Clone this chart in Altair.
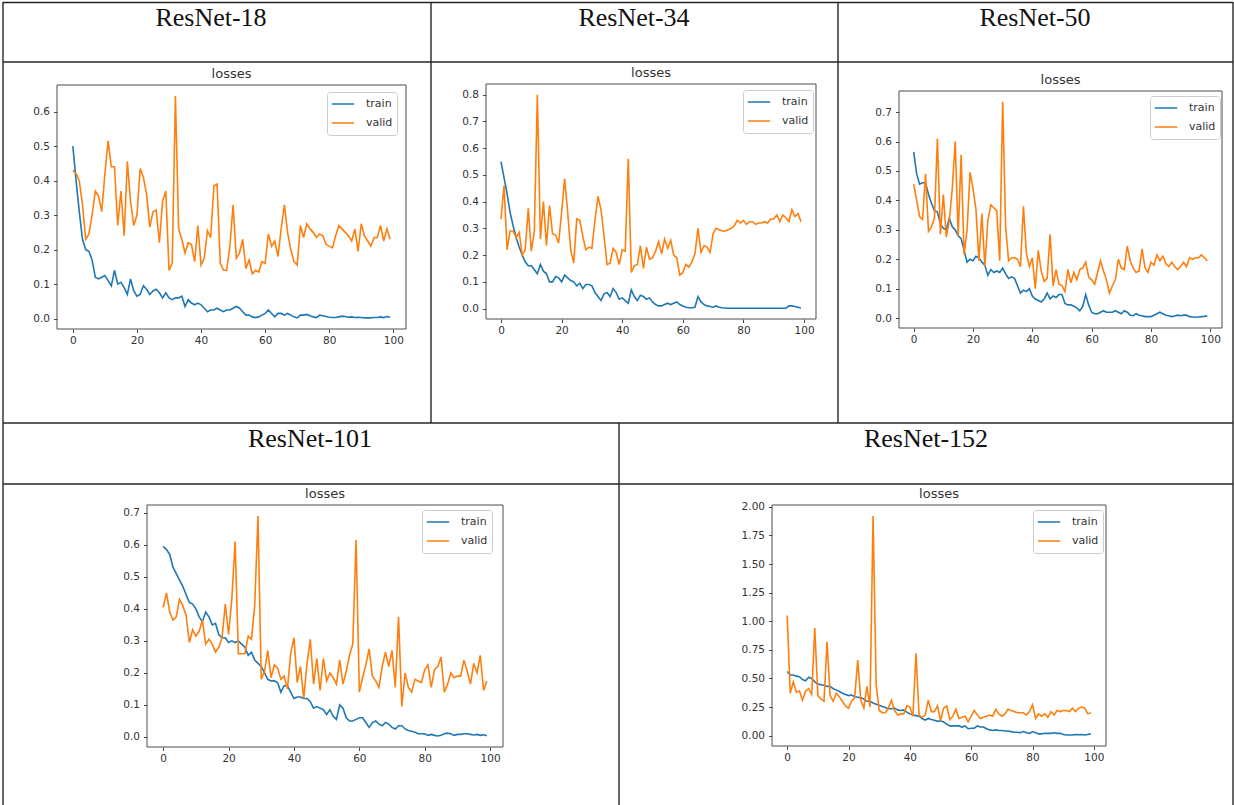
import altair as alt
import pandas as pd

EPOCHS = list(range(100))
SERIES = ["train", "valid"]
COLORS = ["#1f77b4", "#ff7f0e"]
X_TICKS = [0, 20, 40, 60, 80, 100]

r18_train = [0.50, 0.40, 0.31, 0.23, 0.20, 0.195, 0.17, 0.12, 0.115, 0.12,
             0.125, 0.11, 0.095, 0.14, 0.10, 0.105, 0.09, 0.07, 0.115, 0.08,
             0.065, 0.07, 0.095, 0.085, 0.07, 0.08, 0.085, 0.075, 0.06, 0.075,
             0.06, 0.055, 0.06, 0.06, 0.065, 0.035, 0.055, 0.045, 0.04, 0.045,
             0.04, 0.03, 0.02, 0.025, 0.025, 0.03, 0.025, 0.02, 0.025, 0.025,
             0.03, 0.035, 0.03, 0.02, 0.01, 0.01, 0.005, 0.003, 0.005, 0.01,
             0.015, 0.025, 0.015, 0.005, 0.015, 0.015, 0.01, 0.015, 0.01, 0.005,
             0.002, 0.01, 0.01, 0.012, 0.008, 0.005, 0.003, 0.01, 0.008, 0.006,
             0.004, 0.003, 0.003, 0.005, 0.007, 0.006, 0.004, 0.005, 0.003, 0.004,
             0.003, 0.002, 0.002, 0.002, 0.003, 0.003, 0.005, 0.003, 0.006, 0.004]
r18_valid = [0.43, 0.42, 0.40, 0.33, 0.23, 0.245, 0.30, 0.37, 0.355, 0.31,
             0.42, 0.515, 0.44, 0.44, 0.27, 0.37, 0.24, 0.455, 0.34, 0.27,
             0.30, 0.435, 0.41, 0.36, 0.265, 0.31, 0.315, 0.22, 0.34, 0.37,
             0.14, 0.16, 0.645, 0.26, 0.23, 0.19, 0.22, 0.215, 0.165, 0.27,
             0.155, 0.175, 0.255, 0.235, 0.385, 0.39, 0.16, 0.14, 0.14, 0.21,
             0.33, 0.175, 0.19, 0.23, 0.145, 0.17, 0.13, 0.14, 0.135, 0.165,
             0.16, 0.245, 0.21, 0.225, 0.18, 0.26, 0.33, 0.25, 0.20, 0.165,
             0.155, 0.27, 0.235, 0.275, 0.26, 0.25, 0.235, 0.245, 0.24, 0.215,
             0.21, 0.205, 0.24, 0.27, 0.26, 0.25, 0.24, 0.225, 0.26, 0.195,
             0.275, 0.24, 0.225, 0.21, 0.235, 0.235, 0.27, 0.225, 0.26, 0.23]

r34_train = [0.55, 0.49, 0.43, 0.36, 0.31, 0.265, 0.23, 0.20, 0.175, 0.16,
             0.16, 0.145, 0.13, 0.165, 0.14, 0.13, 0.10, 0.10, 0.12, 0.115,
             0.10, 0.125, 0.115, 0.105, 0.10, 0.085, 0.095, 0.075, 0.09, 0.09,
             0.085, 0.06, 0.045, 0.03, 0.055, 0.06, 0.045, 0.075, 0.06, 0.035,
             0.04, 0.03, 0.02, 0.07, 0.045, 0.03, 0.05, 0.045, 0.035, 0.04,
             0.025, 0.015, 0.01, 0.01, 0.015, 0.02, 0.015, 0.02, 0.025, 0.015,
             0.01, 0.005, 0.003, 0.003, 0.005, 0.045, 0.025, 0.015, 0.01, 0.008,
             0.005, 0.01, 0.005, 0.003, 0.002, 0.001, 0.001, 0.001, 0.001, 0.001,
             0.001, 0.001, 0.001, 0.001, 0.001, 0.001, 0.001, 0.001, 0.001, 0.001,
             0.001, 0.001, 0.001, 0.001, 0.001, 0.01, 0.01, 0.008, 0.005, 0.002]
r34_valid = [0.335, 0.46, 0.22, 0.29, 0.29, 0.265, 0.285, 0.20, 0.22, 0.375,
             0.215, 0.29, 0.80, 0.26, 0.40, 0.235, 0.385, 0.28, 0.275, 0.245,
             0.36, 0.485, 0.36, 0.22, 0.17, 0.335, 0.33, 0.27, 0.22, 0.23,
             0.225, 0.33, 0.42, 0.37, 0.27, 0.165, 0.17, 0.225, 0.21, 0.165,
             0.22, 0.215, 0.56, 0.135, 0.16, 0.165, 0.235, 0.15, 0.23, 0.185,
             0.19, 0.215, 0.25, 0.205, 0.26, 0.225, 0.255, 0.20, 0.19, 0.125,
             0.135, 0.165, 0.155, 0.175, 0.205, 0.30, 0.21, 0.235, 0.23, 0.21,
             0.28, 0.30, 0.295, 0.29, 0.29, 0.295, 0.30, 0.31, 0.33, 0.32,
             0.33, 0.315, 0.325, 0.325, 0.315, 0.32, 0.32, 0.325, 0.32, 0.335,
             0.335, 0.35, 0.325, 0.35, 0.34, 0.325, 0.37, 0.345, 0.355, 0.325]

r50_train = [0.565, 0.49, 0.455, 0.46, 0.46, 0.42, 0.39, 0.365, 0.36, 0.32,
             0.305, 0.30, 0.34, 0.31, 0.30, 0.28, 0.27, 0.23, 0.19, 0.20,
             0.195, 0.21, 0.205, 0.19, 0.18, 0.145, 0.165, 0.155, 0.16, 0.155,
             0.17, 0.15, 0.135, 0.14, 0.135, 0.11, 0.085, 0.095, 0.09, 0.10,
             0.075, 0.065, 0.06, 0.055, 0.065, 0.085, 0.065, 0.075, 0.07, 0.08,
             0.08, 0.05, 0.045, 0.045, 0.04, 0.035, 0.025, 0.04, 0.08, 0.045,
             0.02, 0.015, 0.015, 0.02, 0.025, 0.02, 0.02, 0.02, 0.025, 0.02,
             0.015, 0.025, 0.02, 0.01, 0.008, 0.015, 0.01, 0.008, 0.005, 0.005,
             0.005, 0.01, 0.015, 0.02, 0.015, 0.01, 0.008, 0.005, 0.007, 0.01,
             0.008, 0.01, 0.01, 0.005, 0.004, 0.003, 0.004, 0.005, 0.006, 0.008]
r50_valid = [0.455, 0.40, 0.345, 0.335, 0.49, 0.295, 0.31, 0.34, 0.61, 0.285,
             0.42, 0.275, 0.33, 0.44, 0.60, 0.28, 0.555, 0.215, 0.30, 0.495,
             0.44, 0.37, 0.195, 0.355, 0.175, 0.33, 0.385, 0.375, 0.365, 0.195,
             0.735, 0.31, 0.195, 0.205, 0.205, 0.20, 0.175, 0.38, 0.22, 0.175,
             0.205, 0.10, 0.23, 0.16, 0.125, 0.135, 0.285, 0.11, 0.165, 0.115,
             0.11, 0.09, 0.165, 0.12, 0.155, 0.13, 0.165, 0.17, 0.19, 0.14,
             0.13, 0.115, 0.155, 0.195, 0.16, 0.13, 0.085, 0.11, 0.13, 0.20,
             0.17, 0.165, 0.245, 0.195, 0.17, 0.155, 0.16, 0.235, 0.17, 0.155,
             0.19, 0.18, 0.215, 0.195, 0.21, 0.185, 0.175, 0.19, 0.175, 0.165,
             0.175, 0.19, 0.175, 0.205, 0.20, 0.205, 0.205, 0.215, 0.205, 0.195]

r101_train = [0.595, 0.585, 0.57, 0.53, 0.51, 0.49, 0.47, 0.445, 0.42, 0.415,
              0.40, 0.375, 0.36, 0.39, 0.375, 0.35, 0.355, 0.32, 0.31, 0.31,
              0.295, 0.30, 0.295, 0.30, 0.29, 0.28, 0.255, 0.265, 0.24, 0.23,
              0.22, 0.20, 0.18, 0.175, 0.175, 0.17, 0.14, 0.16, 0.16, 0.14,
              0.12, 0.125, 0.125, 0.12, 0.12, 0.11, 0.09, 0.095, 0.09, 0.085,
              0.07, 0.085, 0.065, 0.055, 0.10, 0.09, 0.06, 0.05, 0.05, 0.055,
              0.06, 0.06, 0.045, 0.03, 0.045, 0.05, 0.04, 0.035, 0.045, 0.04,
              0.03, 0.025, 0.035, 0.035, 0.025, 0.02, 0.018, 0.015, 0.01, 0.01,
              0.01, 0.005, 0.008, 0.005, 0.003, 0.005, 0.01, 0.012, 0.01, 0.005,
              0.008, 0.008, 0.01, 0.01, 0.008, 0.006, 0.008, 0.005, 0.007, 0.004]
r101_valid = [0.405, 0.45, 0.39, 0.365, 0.375, 0.43, 0.41, 0.38, 0.295, 0.335,
              0.315, 0.33, 0.365, 0.29, 0.305, 0.29, 0.265, 0.28, 0.31, 0.415,
              0.32, 0.43, 0.61, 0.26, 0.26, 0.26, 0.315, 0.305, 0.41, 0.69,
              0.18, 0.205, 0.27, 0.185, 0.225, 0.215, 0.18, 0.19, 0.15, 0.26,
              0.31, 0.17, 0.22, 0.12, 0.23, 0.305, 0.165, 0.245, 0.145, 0.245,
              0.175, 0.20, 0.185, 0.165, 0.24, 0.165, 0.205, 0.255, 0.29, 0.615,
              0.14, 0.185, 0.225, 0.275, 0.19, 0.175, 0.155, 0.22, 0.265, 0.22,
              0.27, 0.155, 0.375, 0.095, 0.20, 0.155, 0.14, 0.18, 0.175, 0.17,
              0.21, 0.225, 0.155, 0.21, 0.22, 0.25, 0.14, 0.165, 0.20, 0.185,
              0.19, 0.19, 0.24, 0.205, 0.165, 0.23, 0.20, 0.255, 0.145, 0.175]

r152_train = [0.56, 0.53, 0.53, 0.52, 0.515, 0.49, 0.48, 0.51, 0.50, 0.47,
              0.45, 0.445, 0.44, 0.43, 0.43, 0.41, 0.40, 0.385, 0.37, 0.36,
              0.35, 0.355, 0.34, 0.335, 0.33, 0.32, 0.30, 0.30, 0.285, 0.275,
              0.265, 0.255, 0.245, 0.235, 0.235, 0.24, 0.225, 0.22, 0.225, 0.205,
              0.19, 0.18, 0.175, 0.17, 0.15, 0.135, 0.15, 0.14, 0.135, 0.125,
              0.13, 0.12, 0.10, 0.085, 0.085, 0.085, 0.085, 0.075, 0.085, 0.06,
              0.065, 0.065, 0.085, 0.075, 0.075, 0.06, 0.05, 0.045, 0.05, 0.045,
              0.045, 0.04, 0.04, 0.035, 0.03, 0.03, 0.025, 0.035, 0.025, 0.02,
              0.035, 0.025, 0.015, 0.015, 0.02, 0.02, 0.02, 0.025, 0.02, 0.02,
              0.01, 0.005, 0.005, 0.005, 0.01, 0.008, 0.01, 0.005, 0.01, 0.015]
r152_valid = [1.05, 0.37, 0.47, 0.38, 0.39, 0.31, 0.39, 0.41, 0.36, 0.94,
              0.35, 0.32, 0.30, 0.82, 0.35, 0.30, 0.37, 0.34, 0.30, 0.26,
              0.24, 0.30, 0.33, 0.66, 0.31, 0.24, 0.43, 0.25, 1.92, 0.45,
              0.22, 0.20, 0.20, 0.24, 0.31, 0.22, 0.18, 0.19, 0.19, 0.26,
              0.25, 0.17, 0.72, 0.18, 0.16, 0.18, 0.31, 0.21, 0.21, 0.26,
              0.13, 0.24, 0.26, 0.14, 0.17, 0.23, 0.15, 0.16, 0.17, 0.12,
              0.17, 0.22, 0.18, 0.15, 0.16, 0.17, 0.18, 0.17, 0.23, 0.19,
              0.17, 0.19, 0.23, 0.22, 0.21, 0.20, 0.20, 0.20, 0.18, 0.21,
              0.27, 0.15, 0.19, 0.17, 0.19, 0.16, 0.21, 0.18, 0.22, 0.21,
              0.22, 0.22, 0.21, 0.24, 0.21, 0.24, 0.25, 0.24, 0.19, 0.20]

MODELS = ["ResNet-18", "ResNet-34", "ResNet-50", "ResNet-101", "ResNet-152"]
TRAIN = [r18_train, r34_train, r50_train, r101_train, r152_train]
VALID = [r18_valid, r34_valid, r50_valid, r101_valid, r152_valid]
Y_TICKS = [
    [0.0, 0.1, 0.2, 0.3, 0.4, 0.5, 0.6],
    [0.0, 0.1, 0.2, 0.3, 0.4, 0.5, 0.6, 0.7, 0.8],
    [0.0, 0.1, 0.2, 0.3, 0.4, 0.5, 0.6, 0.7],
    [0.0, 0.1, 0.2, 0.3, 0.4, 0.5, 0.6, 0.7],
    [0.0, 0.25, 0.5, 0.75, 1.0, 1.25, 1.5, 1.75, 2.0],
]
Y_FMT = [".1f", ".1f", ".1f", ".1f", ".2f"]

# ---- layout (pixels) ----
W, H = 1234, 805
# plot frame: left, top, right, bottom
FRAMES = [(57, 85, 406, 329), (486, 84, 816, 319), (899, 91, 1222, 328),
          (147, 505, 503, 747), (772, 505, 1106, 746)]
LEGEND_POS = [(327, 92), (743, 90), (1150, 96), (422, 510), (1033, 510)]
HEADER_POS = [(211, 26), (634, 26), (1035, 26), (310, 447), (926, 447)]

LINE_COLOR = "#262626"
TEXT_COLOR = "#333333"
ONE = alt.Data(values=[{}])


def panel(i):
    train, valid = TRAIN[i], VALID[i]
    df = pd.DataFrame({
        "epoch": EPOCHS + EPOCHS,
        "loss": train + valid,
        "series": ["train"] * len(train) + ["valid"] * len(valid),
    })
    lo, hi = min(train + valid), max(train + valid)
    pad = 0.05 * (hi - lo)
    ydom = [lo - pad, hi + pad]
    xpad = 0.05 * (EPOCHS[-1] - EPOCHS[0])
    xdom = [EPOCHS[0] - xpad, EPOCHS[-1] + xpad]
    L, T, R, B = FRAMES[i]
    xs = alt.Scale(domain=xdom, range=[L, R], nice=False, zero=False)
    ys = alt.Scale(domain=ydom, range=[B, T], nice=False, zero=False)
    common = dict(domain=False, grid=False, tickSize=3.5, tickColor=TEXT_COLOR,
                  tickWidth=0.9, labelFontSize=10.5, labelFont="DejaVu Sans",
                  labelColor=TEXT_COLOR, title=None)
    xax = alt.Axis(orient="bottom", offset=B - H, values=X_TICKS, format="d",
                   labelPadding=3, **common)
    yax = alt.Axis(orient="left", offset=-L, values=Y_TICKS[i], format=Y_FMT[i],
                   labelPadding=4, **common)
    lx, ly = LEGEND_POS[i]
    lines = alt.Chart(df).mark_line(strokeWidth=1.6).encode(
        x=alt.X("epoch:Q", scale=xs, axis=xax),
        y=alt.Y("loss:Q", scale=ys, axis=yax),
        color=alt.Color(
            "series:N", title=None,
            scale=alt.Scale(domain=SERIES, range=COLORS),
            legend=alt.Legend(
                orient="none", legendX=lx, legendY=ly, direction="vertical",
                symbolType="stroke", symbolSize=500, symbolStrokeWidth=1.6,
                labelFontSize=11, labelFont="DejaVu Sans", labelColor=TEXT_COLOR,
                labelOffset=11, strokeColor="#cccccc", fillColor="white",
                cornerRadius=3, padding=4, rowPadding=3, clipHeight=16,
            ),
        ),
    )
    frame_df = pd.DataFrame({"x0": [xdom[0]], "x1": [xdom[1]],
                             "y0": [ydom[0]], "y1": [ydom[1]]})
    frame = alt.Chart(frame_df).mark_rect(
        fillOpacity=0, stroke="#4d4d4d", strokeWidth=1
    ).encode(
        x=alt.X("x0:Q", title=None), x2="x1:Q",
        y=alt.Y("y0:Q", title=None), y2="y1:Q",
    )
    title_df = pd.DataFrame({"x": [(xdom[0] + xdom[1]) / 2], "y": [ydom[1]],
                             "t": ["losses"]})
    title = alt.Chart(title_df).mark_text(
        fontSize=13, font="DejaVu Sans", color=TEXT_COLOR, dy=-7,
        baseline="alphabetic", align="center"
    ).encode(x=alt.X("x:Q", title=None), y=alt.Y("y:Q", title=None), text="t:N")
    return alt.layer(frame, lines, title)


def hrule(y, x1, x2):
    return alt.Chart(ONE).mark_rule(color=LINE_COLOR, strokeWidth=1.4).encode(
        x=alt.value(x1), x2=alt.value(x2), y=alt.value(y), y2=alt.value(y))


def vrule(x, y1, y2):
    return alt.Chart(ONE).mark_rule(color=LINE_COLOR, strokeWidth=1.4).encode(
        x=alt.value(x), x2=alt.value(x), y=alt.value(y1), y2=alt.value(y2))


grid = [
    hrule(2.5, 3, 1233), hrule(62, 3, 1233), hrule(423, 3, 1233), hrule(484, 3, 1233),
    vrule(3, 2, 805), vrule(1233, 2, 805),
    vrule(431, 2, 423), vrule(838, 2, 423), vrule(619, 423, 805),
]

headers = [
    alt.Chart(ONE).mark_text(
        font="Liberation Serif", fontSize=26, color="#111111",
        align="center", baseline="alphabetic"
    ).encode(x=alt.value(px), y=alt.value(py), text=alt.value(name))
    for name, (px, py) in zip(MODELS, HEADER_POS)
]

panels = [panel(i) for i in range(len(MODELS))]

chart = alt.layer(*grid, *headers, *panels).resolve_scale(
    x="independent", y="independent", color="independent"
).resolve_axis(
    x="independent", y="independent"
).resolve_legend(
    color="independent"
).properties(
    width=W, height=H, padding=0, autosize="none", background="white"
).configure_view(strokeWidth=0)

chart.save("out.html", embed_options={"renderer": "svg", "actions": False})
